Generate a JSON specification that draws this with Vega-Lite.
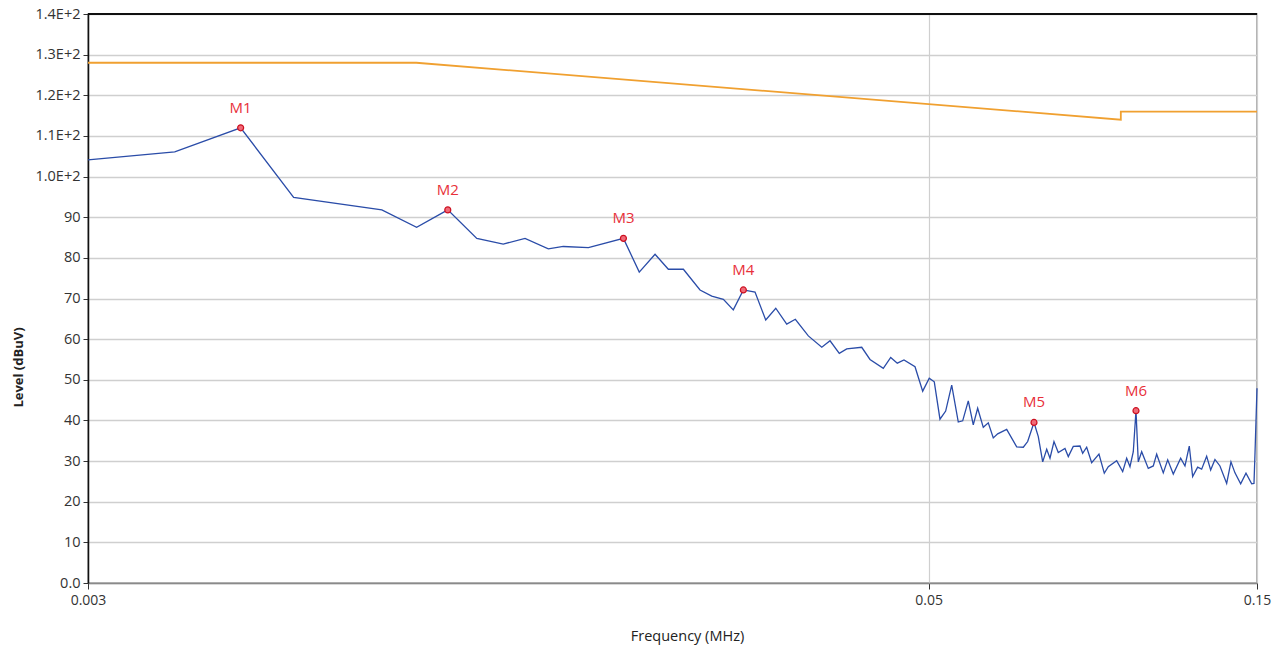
{
  "$schema": "https://vega.github.io/schema/vega-lite/v6.json",
  "width": 1169,
  "height": 569,
  "autosize": "none",
  "padding": {"left": 88, "top": 14, "right": 27, "bottom": 70},
  "background": "white",
  "config": {
    "view": {"stroke": "#9a9a9a", "strokeWidth": 1.5},
    "font": "Open Sans"
  },
  "datasets": {
    "limit": [
      {"i": 1, "freq": 0.003, "level": 128},
      {"i": 2, "freq": 0.009, "level": 128},
      {"i": 3, "freq": 0.0951, "level": 114},
      {"i": 4, "freq": 0.0951, "level": 116},
      {"i": 5, "freq": 0.15, "level": 116}
    ],
    "trace": [
      {"freq": 0.003, "level": 104.1},
      {"freq": 0.00401, "level": 106.1},
      {"freq": 0.005, "level": 112.0},
      {"freq": 0.00597, "level": 94.9},
      {"freq": 0.00802, "level": 91.8},
      {"freq": 0.00901, "level": 87.5},
      {"freq": 0.01, "level": 91.8},
      {"freq": 0.01102, "level": 84.8},
      {"freq": 0.01204, "level": 83.4},
      {"freq": 0.01295, "level": 84.8},
      {"freq": 0.0140, "level": 82.2},
      {"freq": 0.01472, "level": 82.8},
      {"freq": 0.01601, "level": 82.5},
      {"freq": 0.018, "level": 84.8},
      {"freq": 0.01898, "level": 76.5},
      {"freq": 0.02001, "level": 80.9},
      {"freq": 0.02092, "level": 77.2},
      {"freq": 0.022, "level": 77.2},
      {"freq": 0.02326, "level": 72.1},
      {"freq": 0.02419, "level": 70.6},
      {"freq": 0.02515, "level": 69.8},
      {"freq": 0.0260, "level": 67.2},
      {"freq": 0.02689, "level": 72.1},
      {"freq": 0.02796, "level": 71.6},
      {"freq": 0.02898, "level": 64.7},
      {"freq": 0.02997, "level": 67.6},
      {"freq": 0.03109, "level": 63.7},
      {"freq": 0.0320, "level": 64.9},
      {"freq": 0.03342, "level": 60.8},
      {"freq": 0.03496, "level": 58.0},
      {"freq": 0.03594, "level": 59.6},
      {"freq": 0.03707, "level": 56.5},
      {"freq": 0.0380, "level": 57.6},
      {"freq": 0.03996, "level": 58.0},
      {"freq": 0.04108, "level": 55.0},
      {"freq": 0.04295, "level": 52.8},
      {"freq": 0.04403, "level": 55.5},
      {"freq": 0.04501, "level": 54.1},
      {"freq": 0.04603, "level": 54.9},
      {"freq": 0.04776, "level": 53.2},
      {"freq": 0.0490, "level": 47.2},
      {"freq": 0.05009, "level": 50.4},
      {"freq": 0.05094, "level": 49.5},
      {"freq": 0.05192, "level": 40.3},
      {"freq": 0.05292, "level": 42.3},
      {"freq": 0.0540, "level": 48.7},
      {"freq": 0.0552, "level": 39.6},
      {"freq": 0.05602, "level": 39.9},
      {"freq": 0.05708, "level": 44.8},
      {"freq": 0.05804, "level": 38.9},
      {"freq": 0.0589, "level": 43.0},
      {"freq": 0.06002, "level": 38.3},
      {"freq": 0.06103, "level": 39.4},
      {"freq": 0.06206, "level": 35.7},
      {"freq": 0.06298, "level": 36.7},
      {"freq": 0.06491, "level": 37.8},
      {"freq": 0.06712, "level": 33.5},
      {"freq": 0.06862, "level": 33.4},
      {"freq": 0.06963, "level": 34.8},
      {"freq": 0.07112, "level": 39.5},
      {"freq": 0.07215, "level": 36.0},
      {"freq": 0.07322, "level": 29.8},
      {"freq": 0.07421, "level": 32.9},
      {"freq": 0.07503, "level": 30.7},
      {"freq": 0.07604, "level": 34.8},
      {"freq": 0.07714, "level": 32.1},
      {"freq": 0.07889, "level": 33.1},
      {"freq": 0.07977, "level": 31.1},
      {"freq": 0.08111, "level": 33.6},
      {"freq": 0.08295, "level": 33.7},
      {"freq": 0.0837, "level": 31.9},
      {"freq": 0.08483, "level": 33.4},
      {"freq": 0.08626, "level": 29.6},
      {"freq": 0.08839, "level": 31.7},
      {"freq": 0.08998, "level": 27.0},
      {"freq": 0.09119, "level": 28.6},
      {"freq": 0.09379, "level": 30.1},
      {"freq": 0.09569, "level": 27.4},
      {"freq": 0.09698, "level": 30.7},
      {"freq": 0.09806, "level": 28.6},
      {"freq": 0.09915, "level": 32.3},
      {"freq": 0.10005, "level": 42.4},
      {"freq": 0.10082, "level": 29.8},
      {"freq": 0.10197, "level": 32.3},
      {"freq": 0.10425, "level": 28.2},
      {"freq": 0.10601, "level": 28.8},
      {"freq": 0.10722, "level": 31.7},
      {"freq": 0.10962, "level": 27.1},
      {"freq": 0.11125, "level": 30.3},
      {"freq": 0.11335, "level": 26.8},
      {"freq": 0.11619, "level": 30.7},
      {"freq": 0.11787, "level": 28.8},
      {"freq": 0.11958, "level": 33.7},
      {"freq": 0.12094, "level": 26.2},
      {"freq": 0.12298, "level": 28.5},
      {"freq": 0.12464, "level": 28.0},
      {"freq": 0.12674, "level": 31.2},
      {"freq": 0.12845, "level": 27.8},
      {"freq": 0.13031, "level": 30.4},
      {"freq": 0.13251, "level": 28.8},
      {"freq": 0.13552, "level": 24.5},
      {"freq": 0.13748, "level": 29.8},
      {"freq": 0.13934, "level": 27.1},
      {"freq": 0.14202, "level": 24.4},
      {"freq": 0.14457, "level": 27.0},
      {"freq": 0.14736, "level": 24.4},
      {"freq": 0.1485, "level": 24.5},
      {"freq": 0.149, "level": 31.9},
      {"freq": 0.15, "level": 47.9}
    ],
    "markers": [
      {"name": "M1", "freq": 0.005, "level": 112.0},
      {"name": "M2", "freq": 0.01, "level": 91.8},
      {"name": "M3", "freq": 0.018, "level": 84.8},
      {"name": "M4", "freq": 0.02689, "level": 72.1},
      {"name": "M5", "freq": 0.07112, "level": 39.5},
      {"name": "M6", "freq": 0.10005, "level": 42.4}
    ]
  },
  "encoding": {
    "x": {
      "field": "freq",
      "type": "quantitative",
      "scale": {"type": "log", "domain": [0.003, 0.15], "nice": false},
      "axis": {
        "title": "Frequency (MHz)",
        "values": [0.003, 0.05, 0.15],
        "labelExpr": "datum.value == 0.003 ? '0.003' : (datum.value == 0.05 ? '0.05' : '0.15')",
        "labelFlush": false,
        "labelOverlap": false,
        "grid": true,
        "gridColor": "#cfcfcf",
        "gridWidth": 1.2,
        "domainColor": "#8a8a8a",
        "domainWidth": 1.5,
        "tickColor": "#333",
        "tickSize": 6,
        "labelFontSize": 14,
        "labelColor": "#333",
        "labelPadding": 4,
        "titleFontSize": 14.5,
        "titleFontWeight": "normal",
        "titleColor": "#222",
        "titleX": 599,
        "titleY": 53,
        "titleBaseline": "middle"
      }
    },
    "y": {
      "field": "level",
      "type": "quantitative",
      "scale": {"domain": [0, 140], "nice": false},
      "axis": {
        "title": "Level (dBuV)",
        "values": [0, 10, 20, 30, 40, 50, 60, 70, 80, 90, 100, 110, 120, 130, 140],
        "labelExpr": "datum.value == 0 ? '0.0' : (datum.value >= 100 ? format(datum.value / 100, '.1f') + 'E+2' : datum.label)",
        "labelFlush": false,
        "labelOverlap": false,
        "grid": true,
        "gridColor": "#cfcfcf",
        "gridWidth": 1.5,
        "domainColor": "#111",
        "domainWidth": 1.5,
        "tickColor": "#333",
        "tickSize": 5,
        "labelFontSize": 14.5,
        "labelColor": "#333",
        "labelPadding": 3,
        "titleFontSize": 13,
        "titleFontWeight": "bold",
        "titleColor": "#222",
        "titleX": -70,
        "titleY": 353,
        "titleAlign": "center",
        "titleBaseline": "middle"
      }
    }
  },
  "layer": [
    {
      "data": {"name": "limit"},
      "mark": {"type": "line", "color": "#f0a030", "strokeWidth": 1.8, "interpolate": "linear"},
      "encoding": {"order": {"field": "i", "type": "quantitative"}}
    },
    {
      "data": {"name": "trace"},
      "mark": {"type": "line", "color": "#2a4ca8", "strokeWidth": 1.3}
    },
    {
      "data": {"name": "markers"},
      "mark": {"type": "point", "shape": "circle", "size": 36, "filled": true, "fill": "#f06a78", "stroke": "#cc1020", "strokeWidth": 1.2, "opacity": 1}
    },
    {
      "data": {"name": "markers"},
      "mark": {"type": "text", "color": "#e8303a", "fontSize": 15, "dy": -20, "font": "Open Sans"},
      "encoding": {"text": {"field": "name"}}
    },
    {
      "data": {"name": "markers"},
      "mark": {"type": "rule", "color": "#111", "strokeWidth": 1.5},
      "encoding": {"x": null, "y": {"datum": 140}}
    }
  ]
}
